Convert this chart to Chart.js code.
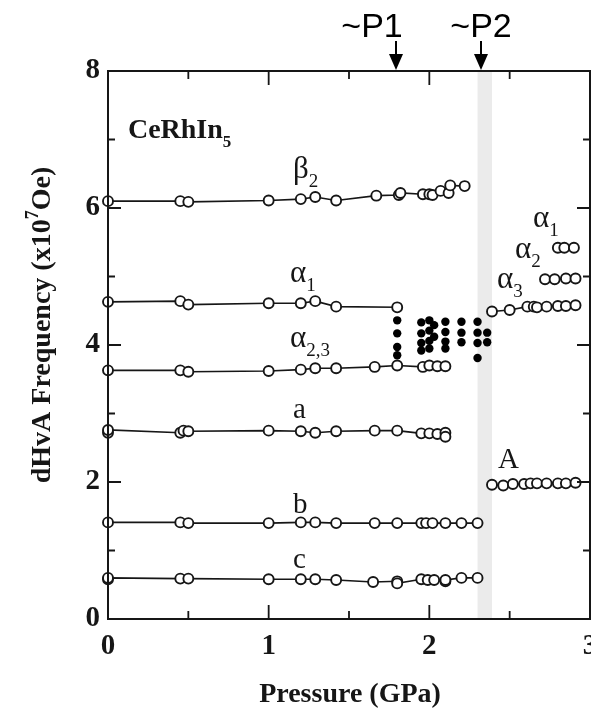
<!DOCTYPE html>
<html>
<head>
<meta charset="utf-8">
<script src="https://cdn.jsdelivr.net/npm/chart.js@4.4.1/dist/chart.umd.min.js"></script>
<style>
  html, body { margin: 0; padding: 0; background: #fff; }
  canvas { display: block; }
</style>
</head>
<body>
<canvas id="dhva" width="591" height="712"></canvas>
<script>
// dHvA frequencies (x10^7 Oe) of CeRhIn5 against pressure (GPa), one pair of arrays per orbit
const beta2P = [0, 0.45, 0.5, 1.0, 1.2, 1.29, 1.42, 1.67, 1.81, 1.82, 1.96, 2.0, 2.02, 2.07, 2.12, 2.13, 2.22];
const beta2F = [6.10, 6.10, 6.09, 6.11, 6.13, 6.16, 6.11, 6.18, 6.19, 6.22, 6.20, 6.20, 6.19, 6.25, 6.22, 6.33, 6.32];

const alpha1P = [0, 0.45, 0.5, 1.0, 1.2, 1.29, 1.42, 1.8];
const alpha1F = [4.63, 4.64, 4.59, 4.61, 4.61, 4.64, 4.56, 4.55];

const alpha23P = [0, 0.45, 0.5, 1.0, 1.2, 1.29, 1.42, 1.66, 1.8, 1.96, 2.0, 2.05, 2.1];
const alpha23F = [3.63, 3.63, 3.61, 3.62, 3.64, 3.66, 3.66, 3.68, 3.70, 3.68, 3.70, 3.69, 3.69];

const aP = [0, 0, 0.45, 0.47, 0.5, 1.0, 1.2, 1.29, 1.42, 1.66, 1.8, 1.95, 2.0, 2.05, 2.1, 2.1];
const aF = [2.72, 2.76, 2.72, 2.75, 2.74, 2.75, 2.74, 2.72, 2.74, 2.75, 2.75, 2.71, 2.71, 2.70, 2.72, 2.66];

const bP = [0, 0.45, 0.5, 1.0, 1.2, 1.29, 1.42, 1.66, 1.8, 1.95, 1.98, 2.02, 2.1, 2.2, 2.3];
const bF = [1.41, 1.41, 1.40, 1.40, 1.41, 1.41, 1.40, 1.40, 1.40, 1.40, 1.40, 1.40, 1.40, 1.40, 1.40];

const cP = [0, 0, 0.45, 0.5, 1.0, 1.2, 1.29, 1.42, 1.65, 1.8, 1.8, 1.95, 1.99, 2.03, 2.1, 2.1, 2.2, 2.3];
const cF = [0.58, 0.60, 0.59, 0.59, 0.58, 0.58, 0.58, 0.57, 0.54, 0.55, 0.52, 0.58, 0.57, 0.57, 0.55, 0.57, 0.60, 0.60];

// small filled points between P1 and P2
const dotP = [1.8, 1.8, 1.8, 1.8, 1.95, 1.95, 1.95, 1.95, 2.0, 2.0, 2.0, 2.0, 2.03, 2.03,
              2.1, 2.1, 2.1, 2.1, 2.2, 2.2, 2.2, 2.3, 2.3, 2.3, 2.3, 2.36, 2.36];
const dotF = [4.36, 4.17, 3.97, 3.85, 4.33, 4.17, 4.03, 3.92, 4.36, 4.21, 4.06, 3.95, 4.29, 4.12,
              4.34, 4.19, 4.05, 3.95, 4.34, 4.18, 4.04, 4.34, 4.18, 4.03, 3.81, 4.18, 4.04];

// high pressure side
const hiAlpha3P = [2.39, 2.5, 2.61, 2.65, 2.67, 2.73, 2.8, 2.85, 2.91];
const hiAlpha3F = [4.49, 4.51, 4.56, 4.56, 4.55, 4.56, 4.57, 4.57, 4.58];
const hiAlpha2P = [2.72, 2.78, 2.85, 2.91];
const hiAlpha2F = [4.96, 4.96, 4.97, 4.97];
const hiAlpha1P = [2.8, 2.84, 2.9];
const hiAlpha1F = [5.42, 5.42, 5.42];
const hiAP = [2.39, 2.46, 2.52, 2.59, 2.63, 2.67, 2.73, 2.8, 2.85, 2.91];
const hiAF = [1.96, 1.95, 1.97, 1.97, 1.98, 1.98, 1.98, 1.98, 1.98, 1.99];

// axes
const xTickLabels = [0, 1, 2, 3];
const yTickLabels = [0, 2, 4, 6, 8];
const xMinorTicks = [0.5, 1.5, 2.5];
const yMinorTicks = [1, 3, 5, 7];
const bandFrom = 2.30, bandTo = 2.39;   // shaded P2 region
const pressureMarks = [{ p: 1.79, text: '~P1', dx: -24 }, { p: 2.32, text: '~P2', dx: 0 }];

// orbit names: [pressure, frequency, main text, subscript, size]
const orbitNames = [
  [1.151, 6.44, 'β', '2', 31],
  [1.133, 4.92, 'α', '1', 31],
  [1.133, 3.97, 'α', '2,3', 31],
  [1.151, 2.93, 'a', '', 29],
  [1.151, 1.55, 'b', '', 29],
  [1.151, 0.74, 'c', '', 29],
  [2.645, 5.72, 'α', '1', 31],
  [2.533, 5.27, 'α', '2', 31],
  [2.421, 4.83, 'α', '3', 31],
  [2.427, 2.20, 'A', '', 29]
];

const ink = '#161616';
const serif = "'Liberation Serif', 'Times New Roman', serif";
const pairs = (p, f) => p.map((v, i) => ({ x: v, y: f[i] }));

function orbit(p, f) {
  return {
    data: pairs(p, f),
    showLine: true,
    borderColor: ink,
    borderWidth: 1.6,
    pointRadius: 5,
    pointBorderWidth: 1.9,
    pointBackgroundColor: '#fff',
    pointBorderColor: ink,
    clip: false
  };
}

function subText(ctx, x, y, main, sub, size, weight) {
  ctx.font = `${weight || ''} ${size}px ${serif}`;
  ctx.fillText(main, x, y);
  if (!sub) return;
  const w = ctx.measureText(main).width;
  ctx.font = `${weight || ''} ${Math.round(size * 0.62)}px ${serif}`;
  ctx.fillText(sub, x + w, y + size * 0.3);
}

const shade = {
  id: 'shade',
  beforeDatasetsDraw(chart) {
    const { ctx, chartArea: a, scales: { x } } = chart;
    ctx.save();
    ctx.fillStyle = '#ebebeb';
    const x0 = x.getPixelForValue(bandFrom), x1 = x.getPixelForValue(bandTo);
    ctx.fillRect(x0, a.top, x1 - x0, a.bottom - a.top);
    ctx.restore();
  }
};

const frame = {
  id: 'frame',
  afterDatasetsDraw(chart) {
    const { ctx, chartArea: a, scales: { x, y } } = chart;
    ctx.save();
    ctx.strokeStyle = ink;
    ctx.lineWidth = 2;
    ctx.strokeRect(a.left, a.top, a.right - a.left, a.bottom - a.top);

    // inward ticks on all four sides
    ctx.lineWidth = 1.8;
    ctx.beginPath();
    const xt = xTickLabels.slice(1, -1).map(v => [v, 14]).concat(xMinorTicks.map(v => [v, 8]));
    xt.forEach(([v, len]) => {
      const px = x.getPixelForValue(v);
      ctx.moveTo(px, a.bottom); ctx.lineTo(px, a.bottom - len);
      ctx.moveTo(px, a.top); ctx.lineTo(px, a.top + len);
    });
    const yt = yTickLabels.slice(1, -1).map(v => [v, 13]).concat(yMinorTicks.map(v => [v, 7]));
    yt.forEach(([v, len]) => {
      const py = y.getPixelForValue(v);
      ctx.moveTo(a.left, py); ctx.lineTo(a.left + len, py);
      ctx.moveTo(a.right, py); ctx.lineTo(a.right - len, py);
    });
    ctx.stroke();

    // orbit names
    ctx.fillStyle = ink;
    ctx.textAlign = 'left';
    ctx.textBaseline = 'alphabetic';
    orbitNames.forEach(([p, f, main, sub, size]) => {
      subText(ctx, x.getPixelForValue(p), y.getPixelForValue(f), main, sub, size);
    });
    subText(ctx, x.getPixelForValue(0.124), y.getPixelForValue(7.02), 'CeRhIn', '5', 28, 'bold');
    ctx.restore();
  },
  afterDraw(chart) {
    const { ctx, scales: { x } } = chart;
    ctx.save();
    ctx.fillStyle = ink;
    ctx.strokeStyle = '#000';

    // axis titles
    ctx.textAlign = 'center';
    ctx.textBaseline = 'alphabetic';
    ctx.font = `bold 28px ${serif}`;
    ctx.fillText('Pressure (GPa)', 350, 702);

    ctx.translate(43, 325);
    ctx.rotate(-Math.PI / 2);
    ctx.textBaseline = 'middle';
    ctx.textAlign = 'left';
    const t1 = 'dHvA Frequency (x10', t2 = '7', t3 = 'Oe)';
    ctx.font = `bold 28px ${serif}`;
    const w1 = ctx.measureText(t1).width, w3 = ctx.measureText(t3).width;
    ctx.font = `bold 18px ${serif}`;
    const w2 = ctx.measureText(t2).width;
    let s = -(w1 + w2 + w3) / 2;
    ctx.font = `bold 28px ${serif}`;
    ctx.fillText(t1, s, 0);
    ctx.font = `bold 18px ${serif}`;
    ctx.fillText(t2, s + w1, -10);
    ctx.font = `bold 28px ${serif}`;
    ctx.fillText(t3, s + w1 + w2, 0);
    ctx.setTransform(1, 0, 0, 1, 0, 0);

    // pressure markers above the frame
    ctx.font = `34px 'Liberation Sans', Arial, sans-serif`;
    ctx.textAlign = 'center';
    ctx.textBaseline = 'alphabetic';
    ctx.fillStyle = '#000';
    pressureMarks.forEach(m => {
      const px = Math.round(x.getPixelForValue(m.p));
      ctx.fillText(m.text, px + m.dx, 37);
      ctx.lineWidth = 2;
      ctx.beginPath();
      ctx.moveTo(px, 41); ctx.lineTo(px, 56);
      ctx.stroke();
      ctx.beginPath();
      ctx.moveTo(px - 7, 54); ctx.lineTo(px + 7, 54); ctx.lineTo(px, 70);
      ctx.closePath();
      ctx.fill();
    });
    ctx.restore();
  }
};

new Chart(document.getElementById('dhva'), {
  type: 'scatter',
  data: {
    datasets: [
      {
        data: pairs(dotP, dotF),
        showLine: false,
        pointRadius: 4.2,
        pointBorderWidth: 0,
        pointBackgroundColor: '#000',
        clip: false
      },
      orbit(beta2P, beta2F),
      orbit(alpha1P, alpha1F),
      orbit(alpha23P, alpha23F),
      orbit(aP, aF),
      orbit(bP, bF),
      orbit(cP, cF),
      orbit(hiAlpha1P, hiAlpha1F),
      orbit(hiAlpha2P, hiAlpha2F),
      orbit(hiAlpha3P, hiAlpha3F),
      orbit(hiAP, hiAF)
    ]
  },
  options: {
    responsive: false,
    animation: false,
    devicePixelRatio: 1,
    layout: { autoPadding: false, padding: { top: 71, right: 1, left: 0, bottom: 0 } },
    plugins: { legend: { display: false }, tooltip: { enabled: false } },
    scales: {
      x: {
        type: 'linear', min: 0, max: 3,
        grid: { display: false, drawTicks: false },
        border: { display: false },
        ticks: {
          stepSize: 1, padding: 10, color: ink,
          font: { family: serif, size: 29, weight: 'bold' }
        },
        afterFit(scale) { scale.height = 93; scale.paddingLeft = 0; scale.paddingRight = 0; }
      },
      y: {
        type: 'linear', min: 0, max: 8,
        grid: { display: false, drawTicks: false },
        border: { display: false },
        ticks: {
          stepSize: 2, padding: 8, color: ink,
          font: { family: serif, size: 29, weight: 'bold' }
        },
        afterFit(scale) { scale.width = 108; scale.paddingTop = 0; scale.paddingBottom = 0; }
      }
    }
  },
  plugins: [shade, frame]
});
</script>
</body>
</html>
